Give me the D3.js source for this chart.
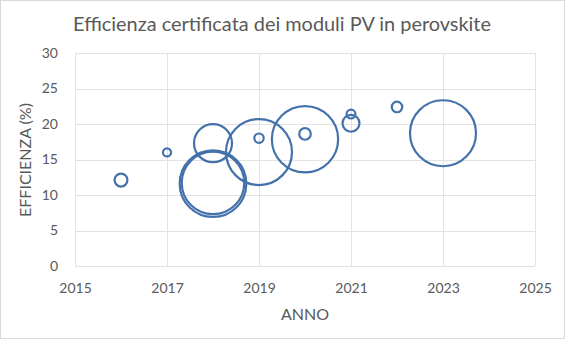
<!DOCTYPE html>
<html><head><meta charset="utf-8">
<script src="https://cdn.jsdelivr.net/npm/d3@7"></script>
<style>body{margin:0;background:#fff}svg{display:block}</style>
</head><body>
<svg id="c" width="565" height="339"></svg>
<script>
const years   = [2016, 2017, 2018, 2018, 2018, 2019, 2019, 2020, 2020, 2021, 2021, 2022, 2023];
const effic   = [12.1, 16.0, 17.3, 11.6, 11.7, 16.05, 18.0, 17.85, 18.6, 20.1, 21.4, 22.4, 18.7];
const sizes   = [36, 14, 312, 960, 845, 942, 19, 950, 29, 62, 17, 24, 942];
const xTicks  = [2015, 2017, 2019, 2021, 2023, 2025];
const yTicks  = [0, 5, 10, 15, 20, 25, 30];
const title   = "Efficienza certificata dei moduli PV in perovskite";
const xTitle  = "ANNO";
const yTitle  = "EFFICIENZA (%)";

const svg = d3.select("#c");
const font = "Lato, 'Open Sans', sans-serif";
const grey = "#595959";
const x = d3.scaleLinear().domain([2015, 2025]).range([75, 535]);
const y = d3.scaleLinear().domain([0, 30]).range([266, 53]);
const r = d3.scaleSqrt().domain([0, 1000]).range([0, 34]);

svg.append("rect").attr("x",0.5).attr("y",0.5).attr("width",564).attr("height",338)
  .attr("fill","#fff").attr("stroke","#d9d9d9");

// gridlines
svg.append("g").selectAll("line").data(yTicks).join("line")
  .attr("x1", x(2015)).attr("x2", x(2025))
  .attr("y1", d => Math.round(y(d))+0.5).attr("y2", d => Math.round(y(d))+0.5)
  .attr("stroke", "#e3e3e3").attr("stroke-width", 1);
svg.append("g").selectAll("line").data(xTicks).join("line")
  .attr("y1", y(0)).attr("y2", y(30))
  .attr("x1", d => Math.round(x(d))+0.5).attr("x2", d => Math.round(x(d))+0.5)
  .attr("stroke", "#e3e3e3").attr("stroke-width", 1);

// axes (labels only)
const xa = svg.append("g").attr("transform", `translate(0,${y(0)})`)
  .call(d3.axisBottom(x).tickValues(xTicks).tickFormat(d3.format("d")).tickSize(0).tickPadding(17));
const ya = svg.append("g").attr("transform", `translate(${x(2015)},0)`)
  .call(d3.axisLeft(y).tickValues(yTicks).tickSize(0).tickPadding(17));
[xa, ya].forEach(a => {
  a.select(".domain").remove();
  a.selectAll("text").attr("fill", grey).attr("font-family", font).attr("font-size", 14);
});

// bubbles
const data = years.map((yr, i) => ({yr, e: effic[i], s: sizes[i]}));
svg.append("g").selectAll("circle").data(data).join("circle")
  .attr("cx", d => x(d.yr)).attr("cy", d => y(d.e)).attr("r", d => r(d.s))
  .attr("fill", "none").attr("stroke", "#4371ab").attr("stroke-width", 2.2);

// titles
const t = svg.append("text").attr("x", 282).attr("y", 31).attr("text-anchor", "middle")
  .attr("fill", grey).attr("font-family", font).attr("font-size", 20).text(title);
const w = t.node().getComputedTextLength();
if (w > 0) t.attr("font-size", 20 * 418 / w);
svg.append("text").attr("x", 305).attr("y", 320).attr("text-anchor", "middle")
  .attr("fill", grey).attr("font-family", font).attr("font-size", 16).text(xTitle);
svg.append("text").attr("transform", "translate(31,160) rotate(-90)").attr("text-anchor", "middle")
  .attr("fill", grey).attr("font-family", font).attr("font-size", 16).text(yTitle);
</script>
</body></html>
